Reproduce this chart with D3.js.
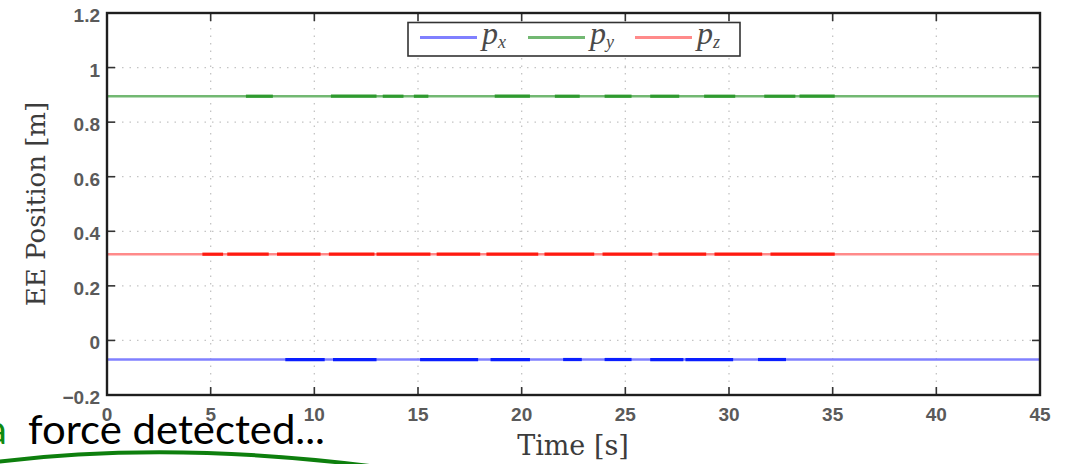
<!DOCTYPE html>
<html>
<head>
<meta charset="utf-8">
<script src="https://d3js.org/d3.v7.min.js"></script>
<style>
  body { margin: 0; background: #fff; }
  svg { display: block; }
</style>
</head>
<body>
<svg width="1070" height="464"></svg>
<script>
// ---- data ----
var xTicks = [0, 5, 10, 15, 20, 25, 30, 35, 40, 45]
var yTicks = [-0.2, 0, 0.2, 0.4, 0.6, 0.8, 1, 1.2]
var yTickLabels = ['\u22120.2', '0', '0.2', '0.4', '0.6', '0.8', '1', '1.2']
var seriesNames = ['x', 'y', 'z']
var seriesValues = [-0.07, 0.895, 0.316]
// time spans where the trace is noisy / drawn darker
var pxSegments = [[8.6, 10.5], [10.9, 13.0], [15.1, 17.9], [18.5, 20.4], [22.0, 22.9],
                  [24.0, 25.3], [26.2, 27.8], [27.9, 30.2], [31.4, 32.75]]
var pySegments = [[6.7, 8.0], [10.8, 13.0], [13.3, 14.3], [14.8, 15.5], [18.7, 20.4],
                  [21.6, 22.8], [24.0, 25.3], [26.2, 27.6], [28.8, 30.3], [31.7, 33.2], [33.4, 35.1]]
var pzSegments = [[4.6, 5.6], [5.8, 7.8], [8.2, 10.3], [10.7, 12.9], [13.0, 15.6], [15.9, 18.0],
                  [18.3, 20.8], [21.1, 23.5], [23.9, 26.3], [26.6, 28.9], [29.3, 31.6], [32.0, 35.1]]
var segments = [pxSegments, pySegments, pzSegments]

var lightColors = ['#8080ff', '#72b872', '#ff8a8a']
var darkColors = ['#0a1eff', '#2e9a2e', '#ff1a10']

var svg = d3.select('svg')
var x = d3.scaleLinear().domain([0, 45]).range([107, 1040])
var y = d3.scaleLinear().domain([-0.2, 1.2]).range([395, 13])

// grid
svg.append('g').selectAll('line')
  .data(xTicks.slice(1, -1))
  .enter().append('line')
  .attr('x1', function(d) { return x(d) }).attr('x2', function(d) { return x(d) })
  .attr('y1', y(1.2)).attr('y2', y(-0.2))
  .attr('stroke', '#c4c4c4').attr('stroke-width', 1.3).attr('stroke-dasharray', '1.5,6')
svg.append('g').selectAll('line')
  .data(yTicks.slice(1, -1))
  .enter().append('line')
  .attr('y1', function(d) { return y(d) }).attr('y2', function(d) { return y(d) })
  .attr('x1', x(0)).attr('x2', x(45))
  .attr('stroke', '#c4c4c4').attr('stroke-width', 1.3).attr('stroke-dasharray', '1.5,6')

// series
var line = d3.line().x(function(d) { return x(d[0]) }).y(function(d) { return y(d[1]) })
seriesValues.forEach(function(v, i) {
  svg.append('path')
    .attr('d', line([[0, v], [45, v]]))
    .attr('fill', 'none').attr('stroke', lightColors[i]).attr('stroke-width', 2.6)
  svg.append('g').selectAll('path')
    .data(segments[i])
    .enter().append('path')
    .attr('d', function(s) { return line([[s[0], v], [s[1], v]]) })
    .attr('fill', 'none').attr('stroke', darkColors[i]).attr('stroke-width', 3.2)
})

// ticks (inward on all sides)
var tk = 8
var ticks = svg.append('g').attr('stroke', '#333').attr('stroke-width', 1.6)
xTicks.slice(1, -1).forEach(function(d) {
  ticks.append('line').attr('x1', x(d)).attr('x2', x(d)).attr('y1', y(-0.2)).attr('y2', y(-0.2) - tk)
  ticks.append('line').attr('x1', x(d)).attr('x2', x(d)).attr('y1', y(1.2)).attr('y2', y(1.2) + tk)
})
yTicks.slice(1, -1).forEach(function(d) {
  ticks.append('line').attr('y1', y(d)).attr('y2', y(d)).attr('x1', x(0)).attr('x2', x(0) + tk)
  ticks.append('line').attr('y1', y(d)).attr('y2', y(d)).attr('x1', x(45)).attr('x2', x(45) - tk)
})

// frame
svg.append('rect')
  .attr('x', x(0)).attr('y', y(1.2))
  .attr('width', x(45) - x(0)).attr('height', y(-0.2) - y(1.2))
  .attr('fill', 'none').attr('stroke', '#1e1e1e').attr('stroke-width', 2.4)

// tick labels
svg.append('g').selectAll('text')
  .data(xTicks)
  .enter().append('text')
  .attr('x', function(d) { return x(d) })
  .attr('y', 421)
  .attr('text-anchor', 'middle')
  .style('font-family', 'Liberation Sans, Arial, sans-serif')
  .style('font-size', '19px').style('font-weight', 'bold')
  .attr('fill', '#5a5a5a')
  .text(function(d) { return d })
svg.append('g').selectAll('text')
  .data(yTicks)
  .enter().append('text')
  .attr('x', 100)
  .attr('y', function(d) { return y(d) + 9 })
  .attr('text-anchor', 'end')
  .style('font-family', 'Liberation Sans, Arial, sans-serif')
  .style('font-size', '19px').style('font-weight', 'bold')
  .attr('fill', '#5a5a5a')
  .text(function(d, i) { return yTickLabels[i] })

// axis titles
svg.append('text')
  .attr('transform', 'translate(45,204) rotate(-90)')
  .attr('text-anchor', 'middle')
  .style('font-family', 'DejaVu Serif, serif')
  .style('font-size', '26px')
  .attr('fill', '#3c3c3c')
  .text('EE Position [m]')
svg.append('text')
  .attr('x', 573).attr('y', 455)
  .attr('text-anchor', 'middle')
  .style('font-family', 'DejaVu Serif, serif')
  .style('font-size', '27px')
  .attr('fill', '#3c3c3c')
  .text('Time [s]')

// legend
var legend = svg.append('g')
legend.append('rect')
  .attr('x', 408).attr('y', 22.5).attr('width', 332).attr('height', 33.5)
  .attr('fill', '#fff').attr('stroke', '#333').attr('stroke-width', 1.6)
var legendX = [420, 528, 635]
seriesNames.forEach(function(n, i) {
  legend.append('line')
    .attr('x1', legendX[i]).attr('x2', legendX[i] + 57)
    .attr('y1', 37.5).attr('y2', 37.5)
    .attr('stroke', lightColors[i]).attr('stroke-width', 3)
  var t = legend.append('text')
    .attr('x', legendX[i] + 62).attr('y', 44)
    .style('font-family', 'Liberation Serif, serif')
    .style('font-style', 'italic')
    .style('font-size', '32px')
    .attr('fill', '#4a4a4a')
  t.append('tspan').text('p')
  t.append('tspan').attr('dy', 4).style('font-size', '18px').text(n)
})

// slide annotation overlapping the figure
var note = svg.append('text')
  .attr('y', 444)
  .style('font-family', 'Lato, Open Sans, sans-serif')
  .style('font-size', '40px')
  .attr('fill', '#000')
note.append('tspan').attr('x', -13).attr('fill', '#0f8a0f').text('a')
note.append('tspan').attr('x', 28).attr('textLength', 297).attr('lengthAdjust', 'spacingAndGlyphs')
  .text('force detected...')
svg.append('path')
  .attr('d', 'M -5 462 Q 175 440 385 468')
  .attr('fill', 'none').attr('stroke', '#0d7f0d').attr('stroke-width', 4)
</script>
</body>
</html>
